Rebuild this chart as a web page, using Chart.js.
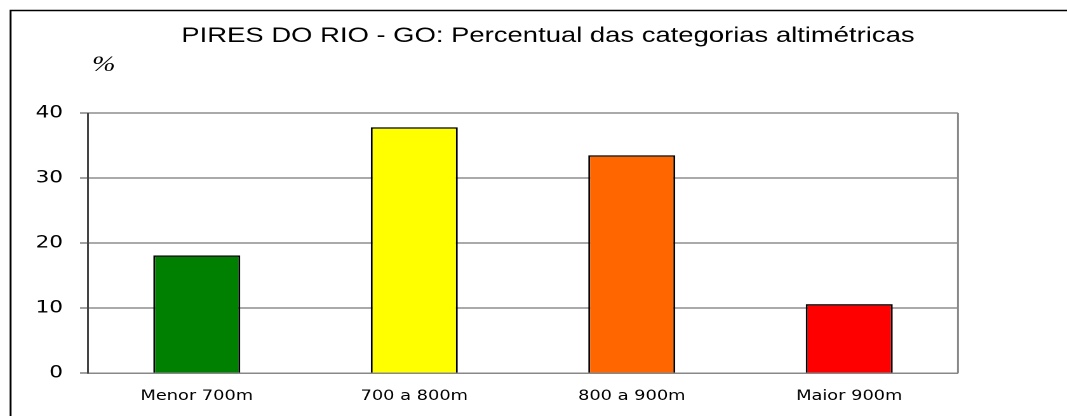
<!DOCTYPE html>
<html>
<head>
<meta charset="utf-8">
<script src="https://cdn.jsdelivr.net/npm/chart.js@4"></script>
<style>
  html, body { margin: 0; padding: 0; background: #fff; overflow: hidden; }
  /* o grafico original esta esticado na horizontal: desenha estreito e estica */
  #wrap { width: 840px; height: 416px; transform: scaleX(1.2702); transform-origin: 0 0; }
</style>
</head>
<body>
<div id="wrap"><canvas id="chart" width="840" height="416"></canvas></div>
<script>
const categorias = ['Menor 700m', '700 a 800m', '800 a 900m', 'Maior 900m'];
const percentuais = [18.1, 37.8, 33.5, 10.6];
const cores = ['#008000', '#ffff00', '#ff6600', '#ff0000'];
const titulo = 'PIRES DO RIO - GO: Percentual das categorias altimétricas';
const unidade = '%';

// moldura, borda direita da area do grafico, titulo e "%"
const extras = {
  id: 'extras',
  afterDraw(chart) {
    const { ctx, chartArea: a } = chart;
    ctx.save();
    ctx.strokeStyle = '#000';
    ctx.lineWidth = 1.5;
    ctx.beginPath();
    ctx.moveTo(8.3, 416);
    ctx.lineTo(8.3, 10.5);
    ctx.lineTo(840, 10.5);
    ctx.stroke();

    ctx.strokeStyle = '#888';
    ctx.lineWidth = 1.5;
    ctx.beginPath();
    ctx.moveTo(a.right, a.top);
    ctx.lineTo(a.right, a.bottom);
    ctx.stroke();

    ctx.fillStyle = '#000';
    ctx.textAlign = 'center';
    ctx.textBaseline = 'middle';
    ctx.font = '21.6px "Liberation Sans"';
    ctx.fillText(titulo, 431.4, 36);
    ctx.textAlign = 'left';
    ctx.font = 'italic 22px "Liberation Serif"';
    ctx.fillText(unidade, 72.5, 65);
    ctx.restore();
  }
};

new Chart(document.getElementById('chart'), {
  type: 'bar',
  data: {
    labels: categorias,
    datasets: [{
      data: percentuais,
      backgroundColor: cores,
      borderColor: '#000',
      borderWidth: 1.5,
      barPercentage: 0.4,
      categoryPercentage: 1.0
    }]
  },
  options: {
    responsive: false,
    devicePixelRatio: 2,
    animation: false,
    layout: { padding: { top: 113, right: 85.8, left: 0, bottom: 0 } },
    plugins: { legend: { display: false }, tooltip: { enabled: false } },
    scales: {
      x: {
        grid: { display: false },
        border: { color: '#888', width: 1.5 },
        ticks: { color: '#000', font: { family: 'DejaVu Sans', size: 14 }, padding: 7 },
        afterFit(s) { s.height = 43; }
      },
      y: {
        min: 0, max: 40,
        ticks: { stepSize: 10, color: '#000', font: { family: 'DejaVu Sans', size: 17 }, padding: 13.4 },
        grid: { color: '#555', lineWidth: 1, tickLength: 6.3, tickColor: '#444' },
        border: { color: '#444', width: 1.5 },
        afterFit(s) { s.width = 69.3; }
      }
    }
  },
  plugins: [extras]
});
</script>
</body>
</html>
